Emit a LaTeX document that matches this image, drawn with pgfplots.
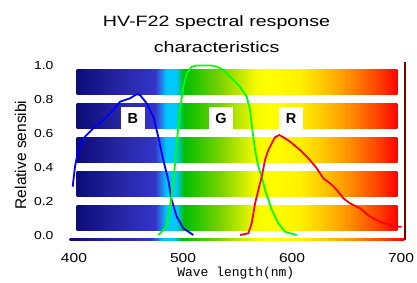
\documentclass[border=0pt]{standalone}
\usepackage{fontspec}
\setmainfont{Liberation Sans}
\newfontfamily\tickfont[FakeStretch=1.2]{Liberation Sans}
\newfontfamily\titlefont[FakeStretch=1.31]{Liberation Sans}
\newfontfamily\labfont{Liberation Mono}
\usepackage{pgfplots}
\pgfplotsset{compat=1.18}

\definecolor{sA}{RGB}{12,12,120}
\definecolor{sB}{RGB}{38,38,165}
\definecolor{sC}{RGB}{52,52,200}
\definecolor{sD}{RGB}{40,110,225}
\definecolor{sE}{RGB}{0,200,255}
\definecolor{sF}{RGB}{0,190,0}
\definecolor{sG}{RGB}{120,210,0}
\definecolor{sH}{RGB}{245,250,0}
\definecolor{sI}{RGB}{255,255,0}
\definecolor{sJ}{RGB}{255,240,0}
\definecolor{sK}{RGB}{255,200,0}
\definecolor{sL}{RGB}{255,140,0}
\definecolor{sM}{RGB}{255,60,0}
\definecolor{sN}{RGB}{255,0,0}
\definecolor{frameRed}{RGB}{128,0,0}

\pgfdeclarehorizontalshading{spectrum}{100bp}{color(0bp)=(sA); color(25bp)=(sA); color(31.75bp)=(sB); color(37.2bp)=(sC); color(38bp)=(sD); color(38.93bp)=(sE); color(40.49bp)=(sE); color(41.73bp)=(sF); color(47.35bp)=(sG); color(52.82bp)=(sH); color(55.15bp)=(sI); color(59.83bp)=(sJ); color(63.42bp)=(sK); color(67.64bp)=(sL); color(72.3bp)=(sM); color(75bp)=(sN); color(100bp)=(sN)}

\begin{document}
\begin{tikzpicture}
\begin{axis}[
  at={(0,0)}, anchor=south west,
  width=335.8pt, height=180.2pt, scale only axis,
  xmin=396, xmax=704, ymin=-0.03, ymax=1.03,
  clip=false,
  axis line style={draw=none},
  major tick length=0pt,
  xtick={400,500,600,700},
  ytick={0,0.2,0.4,0.6,0.8,1.0},
  /pgf/number format/assume math mode=true,
  yticklabel style={font=\tickfont\fontsize{11.6}{11.6}\selectfont, anchor=east, xshift=-16pt, inner sep=0pt,
    /pgf/number format/fixed, /pgf/number format/fixed zerofill, /pgf/number format/precision=1},
  xticklabel style={font=\tickfont\fontsize{13}{13}\selectfont, anchor=center, yshift=-17pt, inner sep=0pt},
]
% spectrum stripes
\shade[shading=spectrum] (axis cs:402.5,0.03) rectangle (axis cs:696.5,0.18);
\shade[shading=spectrum] (axis cs:402.5,0.23) rectangle (axis cs:696.5,0.38);
\shade[shading=spectrum] (axis cs:402.5,0.43) rectangle (axis cs:696.5,0.58);
\shade[shading=spectrum] (axis cs:402.5,0.63) rectangle (axis cs:696.5,0.78);
\shade[shading=spectrum] (axis cs:402.5,0.83) rectangle (axis cs:696.5,0.98);
% frame pieces
\shade[shading=spectrum] (axis cs:396,-0.025) rectangle (axis cs:703,-0.015);
\fill[frameRed] (axis cs:702.3,-0.024) rectangle (axis cs:704.8,1.024);
% label boxes
\fill[white] (axis cs:443.1,0.6294) rectangle (axis cs:465.1,0.7588);
\fill[white] (axis cs:523.9,0.6294) rectangle (axis cs:545.9,0.7588);
\fill[white] (axis cs:588.1,0.6294) rectangle (axis cs:610.1,0.7588);
\node[font=\bfseries\fontsize{14.5}{14.5}\selectfont] at (axis cs:454.1,0.694) {B};
\node[font=\bfseries\fontsize{14.5}{14.5}\selectfont] at (axis cs:534.9,0.694) {G};
\node[font=\bfseries\fontsize{14.5}{14.5}\selectfont] at (axis cs:599.1,0.694) {R};

\addplot[blue, line width=1.8pt] coordinates {
(398.8,0.29) (400.9,0.408) (403.9,0.506) (410.1,0.584) (417.7,0.634) (426.9,0.682)
(436.1,0.741) (442.2,0.79) (451.4,0.81) (457.5,0.834) (460.6,0.829) (466.7,0.78)
(472.8,0.70) (477.3,0.584) (481.9,0.447) (486.5,0.329) (489.6,0.212) (494.2,0.114)
(500.3,0.045) (509.4,0.006)};

\addplot[color={rgb,255:red,0;green,255;blue,0}, line width=1.8pt] coordinates {
(477.3,0.006) (485.0,0.055) (488.1,0.172) (491.1,0.31) (492.7,0.428) (494.8,0.584)
(497.2,0.741) (500.3,0.878) (503.4,0.957) (508.0,0.996) (512.6,1.003) (526.3,1.003)
(530.9,0.996) (537.0,0.976) (543.1,0.937) (552.3,0.878) (558.4,0.819) (561.5,0.741)
(563.6,0.624) (566.1,0.506) (569.1,0.408) (572.2,0.349) (575.2,0.271) (578.3,0.212)
(581.4,0.153) (587.4,0.075) (593.6,0.025) (604.3,0.006)};

\addplot[red, line width=1.8pt] coordinates {
(552.3,0.006) (559.9,0.016) (563.0,0.075) (566.1,0.192) (569.1,0.271) (572.2,0.349)
(575.2,0.447) (578.3,0.506) (581.4,0.545) (584.4,0.581) (588.3,0.594) (592.0,0.581)
(598.2,0.555) (607.3,0.506) (615.0,0.457) (622.7,0.398) (628.7,0.339) (634.9,0.31)
(641.0,0.271) (647.1,0.222) (653.2,0.192) (662.4,0.163) (671.6,0.114) (680.7,0.084)
(689.9,0.065) (696.1,0.055) (700.6,0.055)};

\node[font=\titlefont\fontsize{15}{15}\selectfont] at (rel axis cs:0.4375,1.2103) {HV-F22 spectral response};
\node[font=\titlefont\fontsize{15}{15}\selectfont] at (rel axis cs:0.4375,1.0771) {characteristics};
\node[font=\labfont\fontsize{13}{13}\selectfont, anchor=base, inner sep=0pt] at (rel axis cs:0.4948,-0.1937) {Wave length(nm)};
\node[font=\fontsize{15.5}{15.5}\selectfont, anchor=base, rotate=90, inner sep=0pt] at (rel axis cs:-0.1299,0.478) {Relative sensibi};
\end{axis}
\pgfresetboundingbox
\useasboundingbox (-69.64pt,-40.9pt) rectangle (347.36pt,241.1pt);
\end{tikzpicture}
\end{document}
